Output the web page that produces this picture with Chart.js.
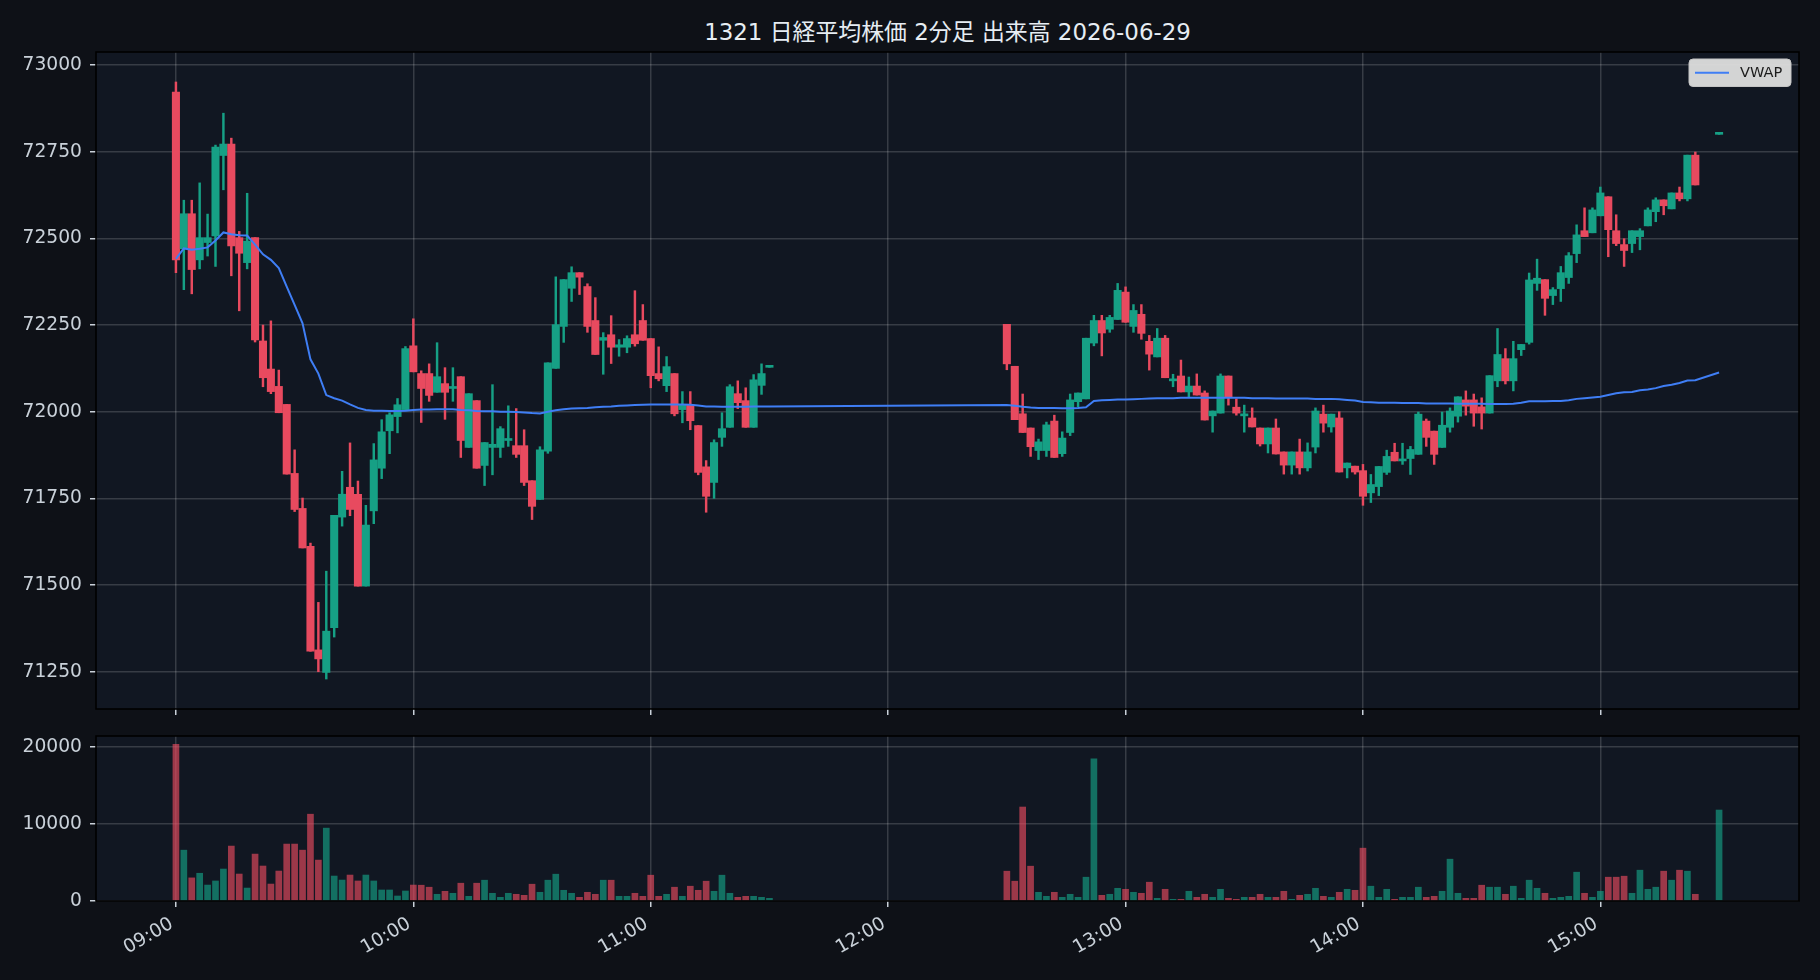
<!DOCTYPE html>
<html><head><meta charset="utf-8">
<script src="https://cdn.jsdelivr.net/npm/chart.js@4.4.1/dist/chart.umd.min.js"></script>
<style>
html,body{margin:0;padding:0;background:#0e1117;}
#wrap{position:relative;width:1820px;height:980px;overflow:hidden;background:#0e1117;}
#title{position:absolute;left:96px;width:1703px;top:19px;line-height:27px;text-align:center;color:#e6edf3;font-size:22.9px;font-family:"DejaVu Sans","Noto Sans CJK JP",sans-serif;white-space:nowrap;}
#c1{position:absolute;left:0;top:0;}
#c2{position:absolute;left:0;top:720px;}
</style></head>
<body><div id="wrap"><div id="title"></div>
<canvas id="c1" width="1820" height="720"></canvas>
<canvas id="c2" width="1820" height="260"></canvas></div>
<script>
const titleText = '1321 日経平均株価 2分足 出来高 2026-06-29';
const times = [
"09:00","09:02","09:04","09:06","09:08","09:10","09:12","09:14","09:16","09:18",
"09:20","09:22","09:24","09:26","09:28","09:30","09:32","09:34","09:36","09:38",
"09:40","09:42","09:44","09:46","09:48","09:50","09:52","09:54","09:56","09:58",
"10:00","10:02","10:04","10:06","10:08","10:10","10:12","10:14","10:16","10:18",
"10:20","10:22","10:24","10:26","10:28","10:30","10:32","10:34","10:36","10:38",
"10:40","10:42","10:44","10:46","10:48","10:50","10:52","10:54","10:56","10:58",
"11:00","11:02","11:04","11:06","11:08","11:10","11:12","11:14","11:16","11:18",
"11:20","11:22","11:24","11:26","11:28","11:30",
"12:30","12:32","12:34","12:36","12:38","12:40","12:42","12:44","12:46","12:48",
"12:50","12:52","12:54","12:56","12:58","13:00","13:02","13:04","13:06","13:08",
"13:10","13:12","13:14","13:16","13:18","13:20","13:22","13:24","13:26","13:28",
"13:30","13:32","13:34","13:36","13:38","13:40","13:42","13:44","13:46","13:48",
"13:50","13:52","13:54","13:56","13:58","14:00","14:02","14:04","14:06","14:08",
"14:10","14:12","14:14","14:16","14:18","14:20","14:22","14:24","14:26","14:28",
"14:30","14:32","14:34","14:36","14:38","14:40","14:42","14:44","14:46","14:48",
"14:50","14:52","14:54","14:56","14:58","15:00","15:02","15:04","15:06","15:08",
"15:10","15:12","15:14","15:16","15:18","15:20","15:22","15:24","15:30"];
const open = [
72922,72470,72571,72438,72488,72507,72739,72772,72502,72430,
72502,72204,72123,72073,72021,71822,71721,71612,71313,71248,
71377,71696,71782,71762,71497,71714,71837,71945,71986,72006,
72190,72110,72110,72056,72081,72067,72101,71897,72032,71845,
71897,71897,71917,71902,71902,71801,71747,71886,72125,72246,
72356,72401,72361,72263,72206,72222,72186,72186,72222,72263,
72211,72110,72075,72110,72006,72020,71960,71841,71796,71926,
71955,72052,72032,71955,72076,72128,
72252,72131,71994,71953,71888,71888,71973,71879,71940,72029,
72037,72198,72263,72238,72266,72345,72246,72281,72203,72158,
72212,72089,72103,72057,72074,72054,71988,71996,72103,72013,
71988,71982,71953,71907,71953,71884,71846,71884,71838,71898,
71993,71956,71982,71838,71843,71830,71766,71784,71825,71883,
71858,71865,71877,71973,71944,71897,71955,71987,72034,72034,
72014,71996,72089,72153,72089,72179,72200,72370,72381,72335,
72355,72387,72456,72522,72516,72565,72620,72522,72482,72485,
72505,72536,72577,72611,72585,72631,72614,72740,72800];
const high = [
72951,72610,72610,72660,72570,72769,72861,72789,72520,72630,
72502,72250,72262,72120,72021,71890,71751,71621,71450,71540,
71701,71828,71910,71800,71730,71908,71977,71997,72038,72188,
72268,72118,72138,72199,72127,72127,72101,72052,72032,71911,
72078,71957,72017,72009,71948,71801,71899,72141,72389,72381,
72418,72401,72369,72329,72228,72277,72208,72219,72349,72309,
72211,72187,72159,72110,72058,72058,71960,71859,71919,71997,
72078,72089,72069,72107,72138,72128,
72252,72131,72051,71953,71921,71970,71990,71942,72051,72054,
72212,72278,72278,72278,72370,72360,72309,72309,72220,72240,
72220,72108,72149,72100,72109,72060,72002,72109,72103,72037,
72019,72011,71953,71953,71979,71884,71884,71921,71910,72011,
72019,71993,72000,71852,71843,71848,71819,71842,71889,71909,
71909,71900,71999,71979,71944,71999,72011,72043,72060,72051,
72040,72104,72240,72182,72203,72194,72400,72440,72381,72358,
72419,72459,72539,72588,72588,72648,72620,72568,72499,72522,
72528,72588,72617,72611,72631,72648,72740,72749,72800];
const low = [
72401,72352,72340,72412,72449,72419,72640,72392,72291,72412,
72201,72072,72052,71997,71820,71712,71607,71309,71250,71229,
71350,71670,71700,71497,71497,71677,71807,71879,71939,72006,
72115,71969,72030,72056,71978,72030,71868,71897,71837,71787,
71818,71868,71900,71868,71787,71689,71747,71880,72125,72200,
72318,72338,72229,72165,72108,72139,72160,72170,72189,72206,
72069,72089,72058,71988,71968,71948,71818,71710,71750,71900,
71955,72009,71955,71955,72050,72128,
72121,71977,71940,71871,71862,71871,71868,71871,71931,72014,
72037,72190,72161,72229,72266,72258,72229,72209,72120,72158,
72098,72072,72057,72042,72048,71976,71941,71996,72019,71990,
71941,71956,71901,71881,71878,71820,71820,71820,71829,71881,
71941,71941,71826,71809,71820,71730,71738,71758,71819,71858,
71848,71819,71877,71900,71848,71897,71941,71970,71990,71958,
71950,71996,72072,72080,72060,72162,72195,72350,72278,72309,
72318,72370,72430,72505,72516,72565,72447,72479,72419,72459,
72467,72536,72548,72568,72585,72608,72608,72654,72800];
const close = [
72438,72571,72410,72502,72502,72763,72772,72478,72457,72492,
72207,72098,72058,71997,71820,71718,71607,71309,71287,71367,
71701,71762,71718,71497,71673,71861,71942,71991,72020,72182,
72115,72067,72047,72101,72056,72071,71917,72052,71837,71911,
71906,71951,71922,71877,71796,71727,71890,72141,72251,72381,
72401,72388,72246,72165,72214,72186,72193,72211,72196,72206,
72104,72095,72130,71994,72020,71974,71825,71756,71911,71951,
72072,72026,71955,72092,72110,72128,
72138,71977,71940,71899,71913,71962,71868,71924,72034,72054,
72212,72263,72227,72272,72350,72258,72292,72226,72166,72212,
72098,72094,72057,72074,72048,71976,72002,72103,72042,71996,
71993,71956,71907,71953,71878,71846,71884,71838,71884,72002,
71967,71993,71826,71852,71826,71756,71790,71842,71871,71858,
71862,71891,71993,71926,71877,71961,72002,72043,72016,71996,
71996,72104,72165,72089,72153,72194,72380,72385,72327,72352,
72401,72450,72510,72505,72582,72631,72525,72485,72465,72522,
72522,72582,72611,72594,72631,72614,72740,72654,72800];
const volume = [
20350,6600,3000,3600,2070,2600,4150,7130,3500,1680,
6090,4540,2200,3890,7390,7390,6600,11270,5310,9460,
3240,2720,3370,2600,3370,2600,1430,1430,650,1300,
2070,2050,1790,870,1260,1000,2310,610,2310,2700,
1000,480,1000,870,740,2180,1130,2700,3480,1390,
1000,480,1130,870,2700,2700,610,610,1000,610,
3350,610,870,1790,610,1920,1390,2570,1260,3350,
1000,480,610,610,480,350,
3870,2570,12200,4520,1130,610,1130,480,870,480,
3090,18450,740,870,1650,1520,1130,1000,2440,350,
1520,220,220,1260,480,870,480,1520,350,220,
480,480,870,480,480,1260,220,740,870,1650,
610,480,1130,1520,1390,6860,1920,480,1520,220,
480,480,1790,480,610,1260,5430,1000,350,350,
2050,1790,1790,870,1920,350,2700,1650,1000,350,
480,610,3740,1000,480,1260,3090,3090,3220,1000,
4000,1520,1790,3870,2700,4000,3870,870,11810];
const vwap = [
72441,72471,72467,72470,72474,72494,72517,72512,72509,72508,
72482,72454,72438,72414,72361,72308,72255,72151,72110,72048,
72039,72032,72021,72011,72005,72003,72003,72002,72002,72003,
72005,72006,72006,72007,72007,72007,72005,72004,72002,72001,
72001,72000,72000,71999,71998,71996,71995,72000,72004,72007,
72009,72010,72011,72013,72014,72015,72017,72018,72019,72020,
72021,72021,72021,72021,72021,72020,72018,72015,72015,72014,
72014,72014,72014,72015,72015,72015,
72019,72017,72014,72012,72011,72011,72011,72010,72010,72011,
72013,72031,72033,72034,72035,72035,72036,72037,72038,72039,
72039,72039,72040,72040,72040,72040,72040,72040,72040,72040,
72040,72039,72039,72039,72038,72038,72038,72038,72038,72037,
72037,72037,72036,72034,72032,72028,72027,72026,72026,72026,
72025,72025,72025,72024,72024,72024,72024,72023,72023,72023,
72023,72022,72022,72022,72023,72026,72030,72030,72030,72031,
72031,72033,72037,72039,72041,72043,72048,72053,72056,72057,
72062,72064,72068,72074,72078,72083,72090,72091,72113];
const priceTicks = [71250,71500,71750,72000,72250,72500,72750,73000];
const volumeTicks = [0,10000,20000];
const hourTicks = ['09:00','10:00','11:00','12:00','13:00','14:00','15:00'];

document.getElementById('title').textContent = titleText;

const toMin = s => { const p = s.split(':'); return (+p[0]) * 60 + (+p[1]); };
const xs = times.map(toMin);
const UP = '#16a085', DOWN = '#e84a5f', VWAPC = '#3f7ef5';
const UPV = 'rgba(22,160,133,0.65)', DOWNV = 'rgba(232,74,95,0.65)';
const isUp = close.map((c, i) => c >= open[i]);
const candleColors = isUp.map(u => u ? UP : DOWN);
const volColors = isUp.map(u => u ? UPV : DOWNV);
const GRID = 'rgba(255,255,255,0.16)';
const TICKC = '#c9d1d9';
const FONT = {family: "'DejaVu Sans', sans-serif", size: 18.7};
const XMIN = 519.8, XMAX = 950.2;

const panelPlugin = {
  id: 'panel',
  beforeDraw(chart) {
    const {ctx, chartArea: a} = chart;
    ctx.save(); ctx.fillStyle = '#111722';
    ctx.fillRect(a.left, a.top, a.right - a.left, a.bottom - a.top); ctx.restore();
  },
  afterDraw(chart) {
    const {ctx, chartArea: a} = chart;
    ctx.save(); ctx.strokeStyle = '#000000'; ctx.lineWidth = 1.6;
    ctx.strokeRect(a.left, a.top, a.right - a.left, a.bottom - a.top); ctx.restore();
  }
};
const legendPlugin = {
  id: 'vwapLegend',
  afterDraw(chart) {
    const {ctx, chartArea: a} = chart;
    const w = 102, h = 27.5, x = a.right - 8 - w, y = a.top + 7, r = 4;
    ctx.save();
    ctx.beginPath();
    ctx.moveTo(x + r, y); ctx.lineTo(x + w - r, y); ctx.quadraticCurveTo(x + w, y, x + w, y + r);
    ctx.lineTo(x + w, y + h - r); ctx.quadraticCurveTo(x + w, y + h, x + w - r, y + h);
    ctx.lineTo(x + r, y + h); ctx.quadraticCurveTo(x, y + h, x, y + h - r);
    ctx.lineTo(x, y + r); ctx.quadraticCurveTo(x, y, x + r, y); ctx.closePath();
    ctx.fillStyle = 'rgba(222,222,222,0.95)'; ctx.fill();
    ctx.strokeStyle = '#c4c4c4'; ctx.lineWidth = 1; ctx.stroke();
    ctx.strokeStyle = VWAPC; ctx.lineWidth = 2;
    ctx.beginPath(); ctx.moveTo(x + 6, y + h / 2); ctx.lineTo(x + 40, y + h / 2); ctx.stroke();
    ctx.fillStyle = '#1b1b1b'; ctx.font = "14.6px 'DejaVu Sans'"; ctx.textBaseline = 'middle';
    ctx.fillText(chart.data.datasets[0].label, x + 51, y + h / 2 + 0.5);
    ctx.restore();
  }
};

const gridOpts = {color: GRID, lineWidth: 1.5, drawTicks: true, tickLength: 6, tickColor: TICKC, tickWidth: 1.5, offset: false};
const fixY = s => { s.width = 96; s.paddingTop = 0; s.paddingBottom = 0; };
const fixX = h => s => { s.height = h; s.paddingLeft = 0; s.paddingRight = 0; };

new Chart(document.getElementById('c1'), {
  type: 'bar',
  data: {datasets: [
    {type: 'line', label: 'VWAP', data: xs.map((x, i) => ({x, y: vwap[i]})), borderColor: VWAPC, borderWidth: 2, pointRadius: 0, tension: 0, order: 0},
    {label: 'body', data: xs.map((x, i) => ({x, y: [open[i], close[i]]})), backgroundColor: candleColors, barThickness: 7.4, minBarLength: 2, grouped: false, order: 1},
    {label: 'wick', data: xs.map((x, i) => ({x, y: [low[i], high[i]]})), backgroundColor: candleColors, barThickness: 1.8, grouped: false, order: 2}
  ]},
  options: {
    responsive: false, animation: false, events: [],
    layout: {padding: {left: 0, top: 52, right: 21, bottom: 5}},
    plugins: {legend: {display: false}, tooltip: {enabled: false}},
    scales: {
      x: {type: 'linear', min: XMIN, max: XMAX, offset: false,
          afterBuildTicks: s => { s.ticks = hourTicks.map(t => ({value: toMin(t)})); },
          ticks: {display: false}, grid: gridOpts, border: {display: false},
          afterFit: fixX(6)},
      y: {min: 71142.5, max: 73037.5,
          afterBuildTicks: s => { s.ticks = priceTicks.map(v => ({value: v})); },
          ticks: {color: TICKC, font: FONT, padding: 8, callback: v => String(v)},
          grid: gridOpts, border: {display: false},
          afterFit: fixY}
    }
  },
  plugins: [panelPlugin, legendPlugin]
});

new Chart(document.getElementById('c2'), {
  type: 'bar',
  data: {datasets: [
    {label: 'Volume', data: xs.map((x, i) => ({x, y: volume[i]})), backgroundColor: volColors, barThickness: 6, grouped: false}
  ]},
  options: {
    responsive: false, animation: false, events: [],
    layout: {padding: {left: 0, top: 16, right: 21, bottom: 0}},
    plugins: {legend: {display: false}, tooltip: {enabled: false}},
    scales: {
      x: {type: 'linear', min: XMIN, max: XMAX, offset: false,
          afterBuildTicks: s => { s.ticks = hourTicks.map(t => ({value: toMin(t)})); },
          ticks: {color: TICKC, font: FONT, padding: 6, labelOffset: -4, minRotation: 30, maxRotation: 30, autoSkip: false,
                  callback: (v, i) => hourTicks[i]},
          grid: gridOpts, border: {display: false},
          afterFit: fixX(79)},
      y: {min: 0, max: 21420,
          afterBuildTicks: s => { s.ticks = volumeTicks.map(v => ({value: v})); },
          ticks: {color: TICKC, font: FONT, padding: 8, callback: v => String(v)},
          grid: gridOpts, border: {display: false},
          afterFit: fixY}
    }
  },
  plugins: [panelPlugin]
});
</script></body></html>
